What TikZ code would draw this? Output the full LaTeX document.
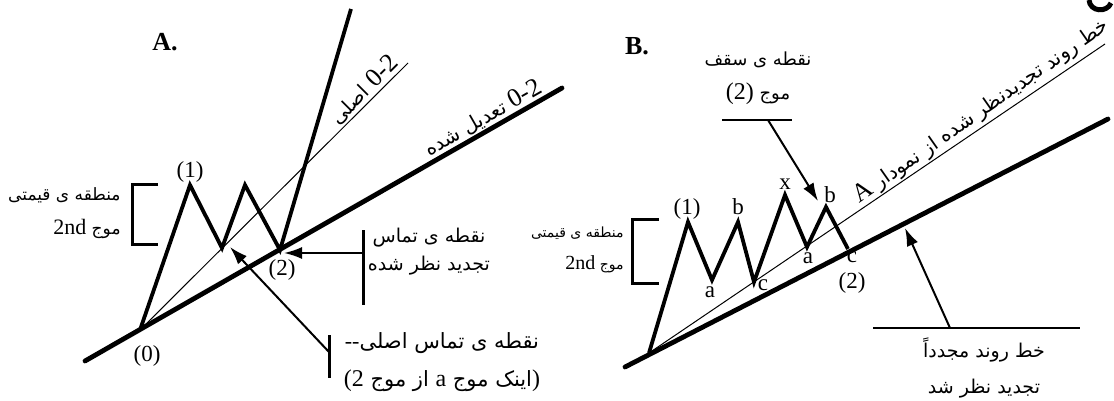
\documentclass[tikz,border=0pt]{standalone}
\usepackage{fontspec}
\setmainfont{Liberation Serif}
\newfontfamily\farsi[Script=Arabic]{DejaVu Sans}
\TeXXeTstate=1
\usetikzlibrary{arrows.meta,positioning}
\newcommand{\ltr}[2][11]{\beginL{\normalfont\fontsize{#1}{#1}\selectfont #2}\endL}

\begin{document}
\begin{tikzpicture}[x=0.5pt,y=-0.5pt,
  trendLine/.style={line width=2.4pt, line cap=round},
  waveLine/.style={line width=1.9pt},
  thinLine/.style={line width=0.5pt},
  pointerLine/.style={line width=1pt},
  barLine/.style={line width=1.5pt},
  ptLabel/.style={font=\fontsize{11.5}{12}\selectfont, inner sep=0pt},
  panelLabel/.style={font=\bfseries\fontsize{13}{13}\selectfont, inner sep=0pt},
  faText/.style={font=\farsi\fontsize{9.5}{14}\selectfont, align=center, inner sep=0pt},
  faSlant/.style={font=\farsi\fontsize{10}{10}\selectfont, inner sep=0pt},
  >={Latex[length=9pt,width=6pt]}
]
  \useasboundingbox (0,0) rectangle (1114,401);

  % A
  \node[panelLabel] (labA) at (165,42) {A.};
  \coordinate (A0) at (140,330);
  \coordinate (A1) at (190,185);
  \coordinate (Aa) at (222,248);
  \coordinate (Ab) at (245,185);
  \coordinate (A2) at (280,250);
  \coordinate (Atop) at (351,9);
  \coordinate (AtrendL) at (85,361);
  \coordinate (AtrendR) at (562,88);
  \coordinate (AthinR) at (408,63);

  \draw[trendLine] (AtrendL) -- (AtrendR);
  \draw[thinLine] (A0) -- (AthinR);
  \draw[waveLine] (A0) -- (A1) -- (Aa) -- (Ab) -- (A2) -- (Atop);

  \node[ptLabel] (A1lab) at (190,172) {(1)};
  \node[ptLabel] (A0lab) at (147,356) {(0)};
  \node[ptLabel] (A2lab) at (282,270) {(2)};

  \draw[barLine] (158,184) -- (132,184) -- (132,244) -- (158,244);
  \node[faText, align=right, anchor=east, font=\farsi\fontsize{8.5}{17}\selectfont] (AzoneTxt) at (121,213)
    {\beginR منطقه ی قیمتی\endR\\\beginR موج \ltr{2nd}\endR};

  \node[faSlant, rotate=45] (AorigTxt) at (364,90)
    {\beginR\ltr[13]{0-2} اصلی\endR};
  \node[faSlant, rotate=29.7] (AmodTxt) at (483,118)
    {\beginR\ltr[13]{0-2} تعدیل شده\endR};

  \coordinate (barOneT) at (363,230);
  \coordinate (barOneB) at (363,305);
  \coordinate (barOneM) at (363,253);
  \coordinate (tipOne) at (284,253);
  \draw[barLine] (barOneT) -- (barOneB);
  \draw[pointerLine,->] (barOneM) -- (tipOne);
  \node[faText] (touchNewTxt) at (429,252)
    {\beginR نقطه ی تماس\endR\\\beginR تجدید نظر شده\endR};

  \coordinate (barTwoT) at (329,335);
  \coordinate (barTwoB) at (329,378);
  \coordinate (barTwoM) at (329,352);
  \coordinate (tipTwo) at (230,247);
  \draw[barLine] (barTwoT) -- (barTwoB);
  \draw[pointerLine,->] (barTwoM) -- (tipTwo);
  \node[faText, font=\farsi\fontsize{10.5}{19}\selectfont] (touchOldTxt) at (442,362)
    {\beginR نقطه ی تماس اصلی\ltr{-\kern0pt-}\endR\\\beginR\ltr[12]{)}اینک موج \ltr[12]{a} از موج \ltr[12]{(2}\endR};

  % B
  \node[panelLabel] (labB) at (637,46) {B.};
  \coordinate (B0) at (649,353);
  \coordinate (B1) at (688,222);
  \coordinate (Ba1) at (712,280);
  \coordinate (Bb1) at (738,222);
  \coordinate (Bc1) at (754,282);
  \coordinate (Bx) at (785,195);
  \coordinate (Ba2) at (807,247);
  \coordinate (Bb2) at (826,207);
  \coordinate (Bc2) at (848,249);
  \coordinate (BtrendL) at (625,367);
  \coordinate (BtrendR) at (1108,119);
  \coordinate (BthinR) at (1105,44);

  \draw[trendLine] (BtrendL) -- (BtrendR);
  \draw[thinLine] (B0) -- (BthinR);
  \draw[waveLine] (B0) -- (B1) -- (Ba1) -- (Bb1) -- (Bc1) -- (Bx) -- (Ba2) -- (Bb2) -- (Bc2);

  \node[ptLabel] (B1lab) at (687,209) {(1)};
  \node[ptLabel] (Ba1lab) at (710,292) {a};
  \node[ptLabel] (Bb1lab) at (738,207) {b};
  \node[ptLabel] (Bc1lab) at (763,285) {c};
  \node[ptLabel] (Bxlab) at (785,184) {x};
  \node[ptLabel] (Ba2lab) at (808,258) {a};
  \node[ptLabel] (Bb2lab) at (830,195) {b};
  \node[ptLabel] (Bc2lab) at (852,257) {c};
  \node[ptLabel] (B2lab) at (852,283) {(2)};

  \draw[barLine] (659,219) -- (632,219) -- (632,283) -- (659,283);
  \node[faText, align=right, anchor=east, font=\farsi\fontsize{7}{16}\selectfont] (BzoneTxt) at (624,250)
    {\beginR منطقه ی قیمتی\endR\\\beginR موج \ltr[10]{2nd}\endR};

  \node[faText, font=\farsi\fontsize{9}{17}\selectfont] (topTxt) at (758,78)
    {\beginR نقطه ی سقف\endR\\\beginR موج \ltr[12]{(2)}\endR};
  \coordinate (topBarL) at (722,120);
  \coordinate (topBarR) at (792,120);
  \coordinate (topBarM) at (768,120);
  \coordinate (tipTop) at (818,201);
  \draw[pointerLine] (topBarL) -- (topBarR);
  \draw[pointerLine,->] (topBarM) -- (tipTop);

  \node[faSlant, rotate=35] (BlineTxt) at (981,111)
    {\beginR خط روند تجدیدنظر شده از نمودار \ltr[13]{A}\endR};

  \coordinate (lowBarL) at (873,328);
  \coordinate (lowBarR) at (1080,328);
  \coordinate (lowBarM) at (950,328);
  \coordinate (tipLow) at (905,228);
  \draw[pointerLine] (lowBarL) -- (lowBarR);
  \draw[pointerLine,->] (lowBarM) -- (tipLow);
  \node[faText, font=\farsi\fontsize{9.5}{18}\selectfont] (againTxt) at (984,368)
    {\beginR خط روند مجدداً\endR\\\beginR تجدید نظر شد\endR};

  \draw[line width=2.5pt] (1089,0) .. controls (1090,12) and (1107,13) .. (1111,3);
\end{tikzpicture}
\end{document}
